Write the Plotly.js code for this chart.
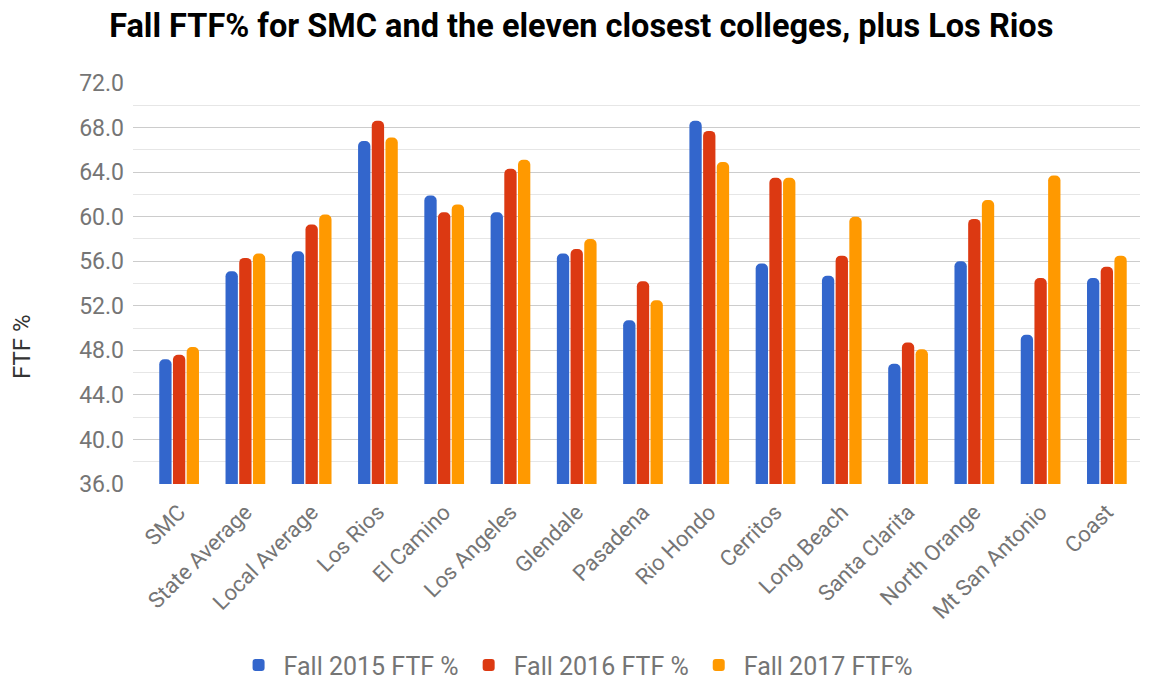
<!DOCTYPE html>
<html><head><meta charset="utf-8">
<script src="https://cdn.plot.ly/plotly-3.0.1.min.js"></script>
<style>html,body{margin:0;padding:0;background:#fff}#chart{width:1151px;height:683px}</style>
</head><body><div id="chart"></div>
<script>
const categories = ["SMC","State Average","Local Average","Los Rios","El Camino","Los Angeles","Glendale","Pasadena","Rio Hondo","Cerritos","Long Beach","Santa Clarita","North Orange","Mt San Antonio","Coast"];
const fall2015 = [47.2,55.1,56.9,66.8,61.9,60.4,56.7,50.7,68.6,55.8,54.7,46.8,56.0,49.4,54.5];
const fall2016 = [47.6,56.3,59.3,68.6,60.4,64.3,57.1,54.2,67.7,63.5,56.5,48.7,59.8,54.5,55.5];
const fall2017 = [48.3,56.7,60.2,67.1,61.1,65.1,58.0,52.5,64.9,63.5,60.0,48.1,61.5,63.7,56.5];
const seriesNames = ["Fall 2015 FTF %","Fall 2016 FTF %","Fall 2017 FTF%"];
const colors = ["#3366CC","#DC3912","#FF9900"];

const traces = [fall2015, fall2016, fall2017].map((v,i)=>({
  type:'bar', x:categories, y:v, name:seriesNames[i],
  marker:{color:colors[i], cornerradius:5}
}));

const layout = {
  width:1151, height:683,
  font:{family:'Roboto, Arial, sans-serif', color:'#616161'},
  title:{text:'<b>Fall FTF% for SMC and the eleven closest colleges, plus Los Rios</b>', x:0.505, xanchor:'center', y:0.963, yanchor:'middle', font:{size:32.5, color:'#000', family:'Roboto, Arial, sans-serif'}},
  margin:{l:133, r:11, t:83, b:199},
  barmode:'group', bargap:0.38, bargroupgap:0.1,
  plot_bgcolor:'#fff', paper_bgcolor:'#fff',
  xaxis:{tickangle:-45, tickfont:{size:22, color:'#757575'}, ticklabelstandoff:10, showgrid:false, showline:false, ticks:'', automargin:false, range:[-0.696,14.5]},
  yaxis:{range:[36,72], dtick:4, tick0:36, tickformat:'.1f', tickfont:{size:23, color:'#757575'},
    ticklabelstandoff:8,
    gridcolor:'#cccccc', gridwidth:1, zeroline:false, showline:false, ticks:'', ticklen:0, automargin:false,
    minor:{dtick:2, showgrid:true, gridcolor:'#e6e6e6', gridwidth:1}},
  annotations:[{text:'FTF %', textangle:-90, xref:'paper', yref:'paper', x:-0.110, y:0.342, xanchor:'center', yanchor:'middle', showarrow:false, font:{size:24, color:'#333'}}],
  legend:{orientation:'h', x:0.44, xanchor:'center', yref:'container', y:0.026, yanchor:'middle', font:{size:25, color:'#757575'}, itemwidth:40, traceorder:'normal'},
  showlegend:true
};
Plotly.newPlot('chart', traces, layout, {displayModeBar:false, staticPlot:true});
</script></body></html>
